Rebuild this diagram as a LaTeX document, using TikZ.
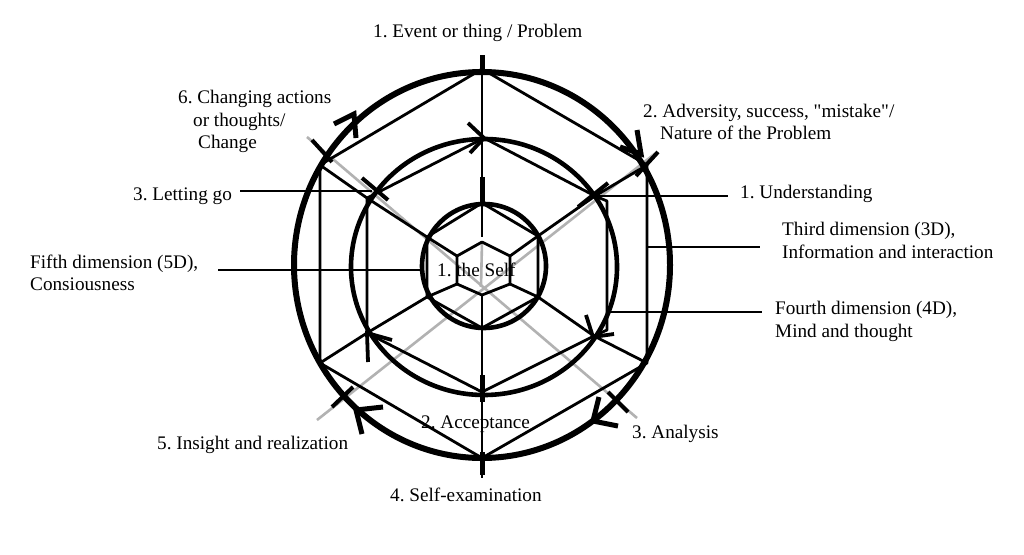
\documentclass[tikz,border=0pt]{standalone}
\usepackage{fontspec}
\setmainfont{Liberation Serif}[Ligatures=TeXOff]
\newcommand\lblfnt{\fontsize{19.2}{23}\selectfont}
\frenchspacing
\begin{document}
\begin{tikzpicture}[x=1pt,y=-1pt]
\tikzset{
 hexline/.style={line width=2.8pt, line join=round},
 ring/.style={line width=4.6pt},
 greyline/.style={line width=2.6pt, color=black!30},
 tickmark/.style={line width=4pt},
 thickseg/.style={line width=5pt},
 chev/.style={line width=5pt, line join=miter},
 chevs/.style={line width=3.8pt, line join=miter},
 lbl/.style={font=\lblfnt, inner sep=0pt, anchor=base west},
 conn/.style={line width=2.8pt}
}
\useasboundingbox (0,0) rectangle (1024,554);
\fill[white] (0,0) rectangle (1024,554);
% coordinates
\coordinate (O1) at (482,69);  \coordinate (O2) at (647,165); \coordinate (O3) at (647,363);
\coordinate (O4) at (482,458); \coordinate (O5) at (320,363); \coordinate (O6) at (320,165);
\coordinate (M1) at (484,138); \coordinate (M2) at (595,196); \coordinate (M2a) at (607,201);
\coordinate (M3a) at (607,330); \coordinate (M3) at (594,336); \coordinate (M4) at (482,392);
\coordinate (M5) at (367,333); \coordinate (M6) at (367,198);
\coordinate (I1) at (482,203); \coordinate (I2) at (538,236); \coordinate (I3) at (538,297);
\coordinate (I4) at (482,328); \coordinate (I5) at (427,297); \coordinate (I6) at (427,237);
\coordinate (S1) at (482,242); \coordinate (S2) at (510,256); \coordinate (S3) at (510,284);
\coordinate (S4) at (482,295); \coordinate (S5) at (457,284); \coordinate (S6) at (457,256);
\coordinate (VT) at (482,55); \coordinate (VB) at (482,478); \coordinate (VM) at (482,237);
\coordinate (X) at (481,287);
\coordinate (G1a) at (307,137); \coordinate (G1b) at (637,418);
\coordinate (G2a) at (657,152); \coordinate (G2b) at (317,420);
% grey guide lines
\draw[greyline] (G1a) -- (G1b);
\draw[greyline] (G2a) -- (G2b);
\draw[greyline] (S1) -- (X);
% circles
\draw[ring, line width=6pt] (482,265) ellipse [x radius=188, y radius=193];
\draw[ring] (484,267) ellipse [x radius=133, y radius=128];
\draw[ring] (484,266) circle [radius=62];
% hexagons
\draw[hexline] (O1) -- (O2) -- (O3) -- (O4) -- (O5) -- (O6) -- cycle;
\draw[hexline] (M1) -- (M2) -- (M2a) -- (M3a) -- (M3) -- (M4) -- (M5) -- (M6) -- cycle;
\draw[hexline] (I1) -- (I2) -- (I3) -- (I4) -- (I5) -- (I6) -- cycle;
\draw[hexline] (S1) -- (S2) -- (S3) -- (S4) -- (S5) -- (S6) -- cycle;
% spokes
\draw[hexline] (O6) -- (M6) -- (I6) -- (S6);
\draw[hexline] (O2) -- (M2) -- (I2) -- (S2);
\draw[hexline] (O3) -- (M3) -- (I3) -- (S3);
\draw[hexline] (O5) -- (M5) -- (I5) -- (S5);
% vertical axis
\draw[hexline] (VT) -- (VM);
\draw[hexline] (S4) -- (VB);
\draw[thickseg] (482,55) -- (482,71);
\draw[thickseg] (482,177) -- (482,204);
\draw[thickseg] (482,375) -- (482,402);
\draw[thickseg] (482,452) -- (482,475);
% tick marks
\draw[tickmark] (636,176) -- (658,152);
\draw[tickmark] (578,207) -- (608,183);
\draw[tickmark] (312,140) -- (332,162);
\draw[tickmark] (362,178) -- (388,200);
\draw[tickmark] (332,407) -- (353,387);
\draw[tickmark] (608,392) -- (628,412);
% chevrons on the outer circle
\draw[chev] (334,124) -- (354,114) -- (356,138);
\draw[chev] (637,130) -- (641,154) -- (620,147);
\draw[chev] (599,397) -- (593,421) -- (618,426);
\draw[chev] (383,407) -- (356,410) -- (362,434);
% chevrons on the middle circle
\draw[chevs] (468,123) -- (484,138) -- (470,153);
\draw[chevs] (586,315) -- (593,337) -- (614,334);
\draw[chevs] (368,362) -- (367,333) -- (392,340);
% labels
\node[lbl] (t1) at (373,37) {1. Event or thing / Problem};
\node[lbl] (t6a) at (178,103) {6. Changing actions};
\node[lbl] (t6b) at (193,126) {or thoughts/};
\node[lbl] (t6c) at (198,148) {Change};
\node[lbl] (t2a) at (643,117) {2. Adversity, success, "mistake"/};
\node[lbl] (t2b) at (660,139) {Nature of the Problem};
\node[lbl] (tu) at (740,198) {1. Understanding};
\node[lbl] (t3a) at (782,235) {Third dimension (3D),};
\node[lbl] (t3b) at (782,258) {Information and interaction};
\node[lbl] (t4a) at (775,314) {Fourth dimension (4D),};
\node[lbl] (t4b) at (775,337) {Mind and thought};
\node[lbl] (tl) at (133,200) {3. Letting go};
\node[lbl] (t5a) at (30,268) {Fifth dimension (5D),};
\node[lbl] (t5b) at (30,290) {Consiousness};
\node[lbl] (ts) at (437,276) {1. the Self};
\node[lbl] (tacc) at (421,428) {2. Acceptance};
\node[lbl] (tan) at (632,438) {3. Analysis};
\node[lbl] (tin) at (157,449) {5. Insight and realization};
\node[lbl] (tse) at (390,501) {4. Self-examination};
% connectors
\coordinate (cL1) at (240,191); \coordinate (cL2) at (372,191);
\coordinate (cU2) at (728,196);
\coordinate (cT1) at (647,247); \coordinate (cT2) at (760,247);
\coordinate (cF1) at (610,312); \coordinate (cF2) at (762,312);
\coordinate (c51) at (218,270); \coordinate (c52) at (422,270);
\draw[conn] (cL1) -- (cL2);
\draw[conn] (M2) -- (cU2);
\draw[conn] (cT1) -- (cT2);
\draw[conn] (cF1) -- (cF2);
\draw[conn] (c51) -- (c52);
\end{tikzpicture}
\end{document}
